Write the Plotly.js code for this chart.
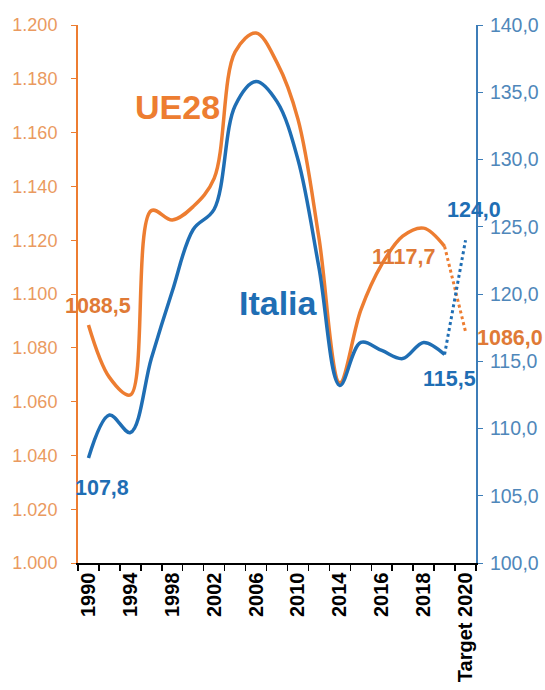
<!DOCTYPE html>
<html>
<head>
<meta charset="utf-8">
<script src="https://cdn.plot.ly/plotly-3.0.1.min.js"></script>
<style>html,body{margin:0;padding:0;background:#fff;}#chart{width:545px;height:690px;}</style>
</head>
<body>
<div id="chart"></div>
<script>
// Categories (biennial to 2014, then annual, then target)
const categories = ['1990','1992','1994','1996','1998','2000','2002','2004','2006','2008','2010','2012','2014','2015','2016','2017','2018','2019','Target 2020'];
const tickLabels = ['1990','','1994','','1998','','2002','','2006','','2010','','2014','','2016','','2018','','Target 2020'];
// UE28 (left axis), 1990..2019
const ue28 = [1088.5, 1069, 1062.5, 1131, 1127.5, 1132.5, 1143, 1190, 1197, 1186, 1165, 1121, 1067, 1094, 1111, 1121.5, 1124.5, 1117.7];
const ue28Target = 1086.0;
// Italia (right axis), 1990..2019
const italia = [107.8, 111.0, 109.7, 115.2, 120.2, 124.8, 126.3, 134.0, 135.8, 134.3, 130.0, 122.0, 113.2, 116.4, 115.8, 115.2, 116.4, 115.5];
const italiaTarget = 124.0;

const ORANGE = '#ED7D31';
const BLUE = '#1F6EB4';
const FONT = 'Liberation Sans, Arial, sans-serif';

const nHist = ue28.length;
const histX = categories.slice(0, nHist);
const lastCat = categories[nHist - 1];
const targetCat = categories[categories.length - 1];
const iFirst = 0, iLast = nHist - 1, iTarget = categories.length - 1;
const fmt = v => v.toFixed(1).replace('.', ',');

const traces = [
  {x: histX, y: ue28, yaxis: 'y', mode: 'lines', line: {color: ORANGE, width: 3.5, shape: 'spline', smoothing: 1}, hoverinfo: 'skip'},
  {x: [lastCat, targetCat], y: [ue28[nHist-1], ue28Target], yaxis: 'y', mode: 'lines', line: {color: ORANGE, width: 3, dash: '3px,3px'}, hoverinfo: 'skip'},
  {x: histX, y: italia, yaxis: 'y2', mode: 'lines', line: {color: BLUE, width: 3.5, shape: 'spline', smoothing: 1}, hoverinfo: 'skip'},
  {x: [lastCat, targetCat], y: [italia[nHist-1], italiaTarget], yaxis: 'y2', mode: 'lines', line: {color: BLUE, width: 3, dash: '3px,3px'}, hoverinfo: 'skip'}
];

const lblFont = (c) => ({family: FONT, size: 21.5, color: c, weight: 'bold'});
const ann = (yref, x, y, text, dx, dy, color) => ({xref: 'x', yref: yref, x: x, y: y, text: text, showarrow: false, xanchor: 'center', yanchor: 'middle', xshift: dx, yshift: dy, font: lblFont(color)});
const annotations = [
  ann('y', iFirst, ue28[0], fmt(ue28[0]), 10, 19, '#E07A36'),
  ann('y2', iFirst, italia[0], fmt(italia[0]), 14, -30, BLUE),
  ann('y', iLast, ue28[nHist-1], fmt(ue28[nHist-1]), -41, -11, '#E07A36'),
  ann('y2', iLast, italia[nHist-1], fmt(italia[nHist-1]), 5, -24, BLUE),
  ann('y2', iTarget, italiaTarget, fmt(italiaTarget), 8, 30, BLUE),
  ann('y', iTarget, ue28Target, fmt(ue28Target), 44, -6, '#E07A36'),
  {xref: 'paper', yref: 'paper', x: 0.249, y: 0.848, xanchor: 'center', yanchor: 'middle', text: 'UE28', showarrow: false, font: {family: FONT, size: 34, color: ORANGE, weight: 'bold'}},
  {xref: 'paper', yref: 'paper', x: 0.505, y: 0.483, xanchor: 'center', yanchor: 'middle', text: 'Italia', showarrow: false, font: {family: FONT, size: 34, color: BLUE, weight: 'bold'}}
];

const layout = {
  width: 545, height: 690,
  margin: {l: 78, r: 69, t: 25, b: 127, pad: 0},
  separators: ',.',
  showlegend: false,
  paper_bgcolor: '#fff', plot_bgcolor: '#fff',
  xaxis: {
    type: 'category', categoryorder: 'array', categoryarray: categories,
    range: [-0.5, categories.length - 0.5], autorange: false,
    tickmode: 'array', tickvals: categories, ticktext: tickLabels,
    tickangle: -90, ticks: 'outside', tickson: 'boundaries', ticklen: 6, tickwidth: 1.5, tickcolor: '#000',
    showline: true, linecolor: '#000', linewidth: 1.5, showgrid: false, zeroline: false,
    tickfont: {family: FONT, size: 20, color: '#000', weight: 'bold'}
  },
  yaxis: {
    range: [1000, 1200], autorange: false, dtick: 20, tick0: 1000, tickformat: ',.0f',
    showline: true, linecolor: ORANGE, linewidth: 2, ticks: 'outside', ticklen: 5, tickcolor: ORANGE,
    showgrid: false, zeroline: false, ticklabelstandoff: 10,
    tickfont: {family: FONT, size: 18, color: '#EA9A60'}
  },
  yaxis2: {
    overlaying: 'y', side: 'right', range: [100, 140], autorange: false, dtick: 5, tick0: 100, tickformat: '.1f',
    showline: true, linecolor: '#3D7DB8', linewidth: 2, ticks: 'outside', ticklen: 5, tickcolor: '#3D7DB8',
    showgrid: false, zeroline: false, ticklabelstandoff: 3,
    tickfont: {family: FONT, size: 19.5, color: '#4F87BA'}
  },
  annotations: annotations
};

Plotly.newPlot('chart', traces, layout, {staticPlot: true, displayModeBar: false});
</script>
</body>
</html>
